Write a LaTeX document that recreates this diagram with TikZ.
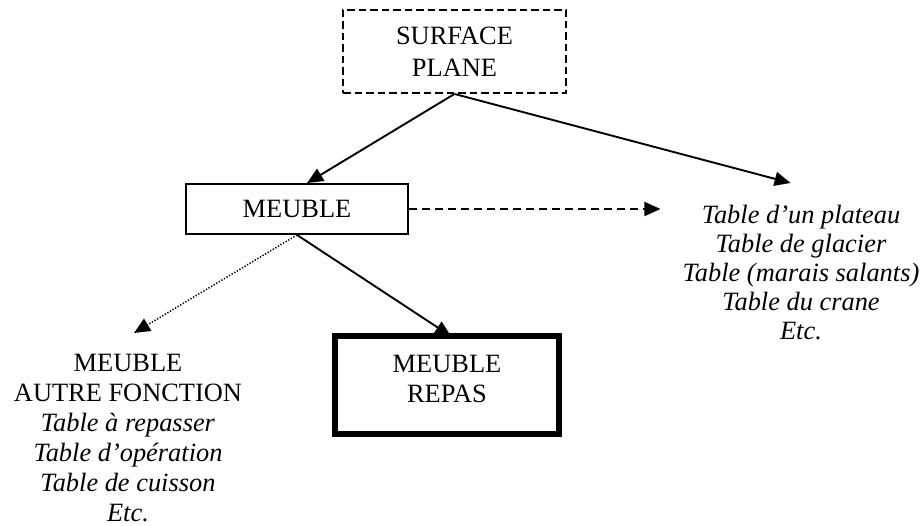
\documentclass[tikz,border=0pt]{standalone}
\usepackage{fontspec}
\setmainfont{Liberation Serif}
\usetikzlibrary{arrows.meta,calc}
\begin{document}
\begin{tikzpicture}[x=1pt,y=-1pt,
  txt/.style={font=\fontsize{26.4}{30}\selectfont, align=center},
  lw/.style={line width=1.9pt},
  arr/.style={lw, -{Triangle[length=16pt,width=14pt]}},
  dashedbox/.style={draw, lw, dash pattern=on 7.5pt off 4pt},
  plainbox/.style={draw, lw, fill=white},
  thickbox/.style={draw, line width=5.5pt, fill=white}]
\useasboundingbox (0,0) rectangle (924,526);

\node[txt, dashedbox, minimum width=223pt, minimum height=83pt, inner sep=0pt,
      font=\fontsize{26.4}{32}\selectfont] (sp) at (454.5,51.5) {SURFACE\\PLANE};
\node[txt, plainbox, minimum width=222pt, minimum height=50pt, inner sep=0pt] (m) at (297,209) {MEUBLE};
\node[txt, thickbox, minimum width=224pt, minimum height=98pt, inner sep=0pt,
      text height=47.5pt, text depth=12pt] (r) at (447,385) {MEUBLE\\REPAS};
\node[txt, anchor=north, inner sep=21.5pt] (lt) at (128,333)
  {MEUBLE\\AUTRE FONCTION\\\textit{Table à repasser}\\\textit{Table d’opération}\\\textit{Table de cuisson}\\\textit{Etc.}};
\node[txt, anchor=north, inner sep=22pt, font=\fontsize{26.4}{29}\selectfont] (rt) at (801,183)
  {\textit{Table d’un plateau}\\\textit{Table de glacier}\\\textit{Table (marais salants)}\\\textit{Table du crane}\\\textit{Etc.}};

\draw[arr] (sp.south) -- ($(m.north west)!0.545!(m.north east)$);
\draw[arr] (sp.south) -- ($(rt.north west)!0.463!(rt.north east)$);
\draw[arr, dash pattern=on 8pt off 5pt] (m.east) -- (rt.west |- m.east);
\draw[arr] (m.south) -- ($(r.north)+(4,3)$);
\draw[line width=1.5pt, dash pattern=on 1.3pt off 1.7pt, -{Triangle[length=16pt,width=14pt]}] (m.south) -- ($(lt.north)+(6,0)$);
\end{tikzpicture}
\end{document}
